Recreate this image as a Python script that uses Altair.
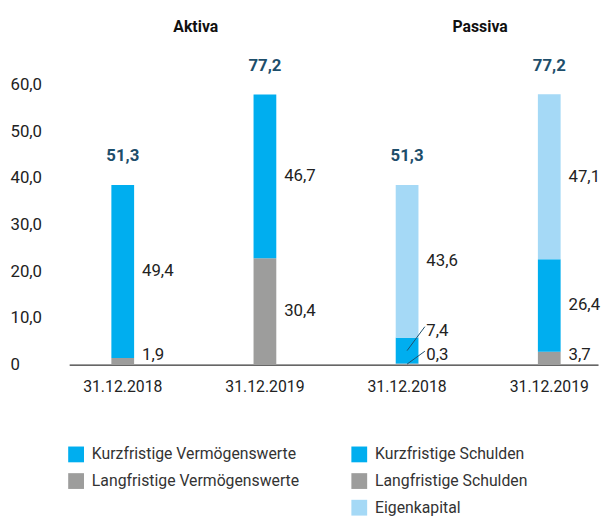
import altair as alt
import pandas as pd

# ---------------- data ----------------
groups = ["Aktiva", "Aktiva", "Passiva", "Passiva"]
dates = ["31.12.2018", "31.12.2019", "31.12.2018", "31.12.2019"]
totals = [51.3, 77.2, 51.3, 77.2]

# Aktiva stacks (bottom -> top)
aktiva_series = ["Langfristige Vermögenswerte", "Kurzfristige Vermögenswerte"]
aktiva_lang = [1.9, 30.4]
aktiva_kurz = [49.4, 46.7]

# Passiva stacks (bottom -> top)
passiva_series = ["Langfristige Schulden", "Kurzfristige Schulden", "Eigenkapital"]
passiva_lang = [0.3, 3.7]
passiva_kurz = [7.4, 26.4]
eigenkapital = [43.6, 47.1]

legend_aktiva = ["Kurzfristige Vermögenswerte", "Langfristige Vermögenswerte"]
legend_passiva = ["Kurzfristige Schulden", "Langfristige Schulden", "Eigenkapital"]

y_tick_labels = ["0", "10,0", "20,0", "30,0", "40,0", "50,0", "60,0"]
y_axis_top = 80  # data value at which the top axis label is printed in the source

# ---------------- styling ----------------
BLUE = "#00AEEF"
GRAY = "#9D9D9C"
LIGHT = "#A5D9F6"
TEAL = "#1D4E6B"
TEXT = "#222222"
FONT = "Roboto"

MIN_LABEL = 2.7   # lowest label position (data units) so labels clear the baseline
LABEL_GAP = 7.0   # minimum spacing between labels of one stack
LEADER_MIN = 1.0  # draw a leader line when label sits this far above its segment

keys = [f"{g}|{d}" for g, d in zip(groups, dates)]

rows = []
def add_stack(key, side, names, values):
    base = 0.0
    prev = -1e9
    for name, v in zip(names, values):
        y0, y1 = base, base + v
        mid = (y0 + y1) / 2
        ly = max(mid, MIN_LABEL, prev + LABEL_GAP)
        prev = ly
        rows.append(dict(key=key, side=side, series=name, value=v, y0=y0, y1=y1,
                         mid=mid, ly=ly, leader=(ly - y1) > LEADER_MIN,
                         label=f"{v:.1f}".replace(".", ",")))
        base = y1

for i in range(2):
    add_stack(keys[i], "Aktiva", aktiva_series, [aktiva_lang[i], aktiva_kurz[i]])
for i in range(2):
    add_stack(keys[2 + i], "Passiva", passiva_series,
              [passiva_lang[i], passiva_kurz[i], eigenkapital[i]])

seg = pd.DataFrame(rows)
tot = pd.DataFrame({"key": keys, "total": totals,
                    "label": [f"{t:.1f}".replace(".", ",") for t in totals]})
titles = pd.DataFrame({"key": [keys[0], keys[2]], "title": ["Aktiva", "Passiva"]})

x_scale = alt.Scale(domain=keys, paddingInner=0.84, paddingOuter=0.28, align=0.53)
y_scale = alt.Scale(domain=[0, y_axis_top], nice=False, zero=True)

tick_vals = [i * y_axis_top / (len(y_tick_labels) - 1) for i in range(len(y_tick_labels))]
label_arr = "[" + ",".join(f"'{s}'" for s in y_tick_labels) + "]"
y_label_expr = f"{label_arr}[round(datum.value*{len(y_tick_labels) - 1}/{y_axis_top})]"

x_enc = alt.X("key:N", scale=x_scale, sort=keys,
              axis=alt.Axis(title=None, labelExpr="split(datum.value, '|')[1]",
                            labelAngle=0, ticks=False, domainColor="#000000",
                            domainWidth=1, labelFontSize=16, labelColor=TEXT,
                            labelPadding=14, grid=False))

legend_common = dict(orient="none", title=None, symbolType="square", symbolSize=256,
                     symbolStrokeWidth=0, labelFontSize=16, labelColor="#333333",
                     labelOffset=8, rowPadding=11, padding=0, labelLimit=320,
                     direction="vertical", legendY=367, labelFont=FONT)

bars_a = alt.Chart(seg).transform_filter("datum.side == 'Aktiva'").mark_bar().encode(
    x=x_enc,
    y=alt.Y("y0:Q", scale=y_scale,
            axis=alt.Axis(title=None, values=tick_vals, labelExpr=y_label_expr,
                          domain=False, ticks=False, grid=False, labelAlign="left",
                          labelPadding=60, labelFontSize=17, labelColor=TEXT,
                          labelBaseline="middle")),
    y2="y1:Q",
    color=alt.Color("series:N",
                    scale=alt.Scale(domain=legend_aktiva, range=[BLUE, GRAY]),
                    legend=alt.Legend(legendX=-1, **legend_common)),
)

bars_p = alt.Chart(seg).transform_filter("datum.side == 'Passiva'").mark_bar().encode(
    x=alt.X("key:N", sort=keys),
    y=alt.Y("y0:Q"),
    y2="y1:Q",
    fill=alt.Fill("series:N",
                  scale=alt.Scale(domain=legend_passiva, range=[BLUE, GRAY, LIGHT]),
                  legend=alt.Legend(legendX=286, **legend_common)),
)

leaders = alt.Chart(seg).transform_filter("datum.leader").mark_rule(
    color=TEAL, strokeWidth=1, x2Offset=18, y2Offset=-4
).encode(
    x=alt.X("key:N", sort=keys),
    x2=alt.X2("key"),
    y="mid:Q",
    y2="ly:Q",
)

values = alt.Chart(seg).mark_text(
    align="left", baseline="middle", dx=19.5, fontSize=17, color=TEXT, font=FONT
).encode(
    x=alt.X("key:N", sort=keys),
    y="ly:Q",
    text="label:N",
)

total_text = alt.Chart(tot).mark_text(
    align="center", baseline="alphabetic", dy=-24, fontSize=17, fontWeight="bold",
    color=TEAL, font=FONT
).encode(
    x=alt.X("key:N", sort=keys),
    y="total:Q",
    text="label:N",
)

title_text = alt.Chart(titles).mark_text(
    align="center", baseline="middle", dx=74, fontSize=16, fontWeight="bold",
    color="#111111", font=FONT
).encode(
    x=alt.X("key:N", sort=keys),
    y=alt.value(-58),
    text="title:N",
)

chart = alt.layer(bars_a, bars_p, leaders, values, total_text, title_text).properties(
    width=536, height=284,
    autosize=alt.AutoSizeParams(type="none"),
    padding={"left": 62, "top": 74, "right": 4, "bottom": 151},
).configure(font=FONT).configure_view(stroke=None).resolve_scale(color="independent")

chart.save("out.html", embed_options={"renderer": "svg", "actions": False})
